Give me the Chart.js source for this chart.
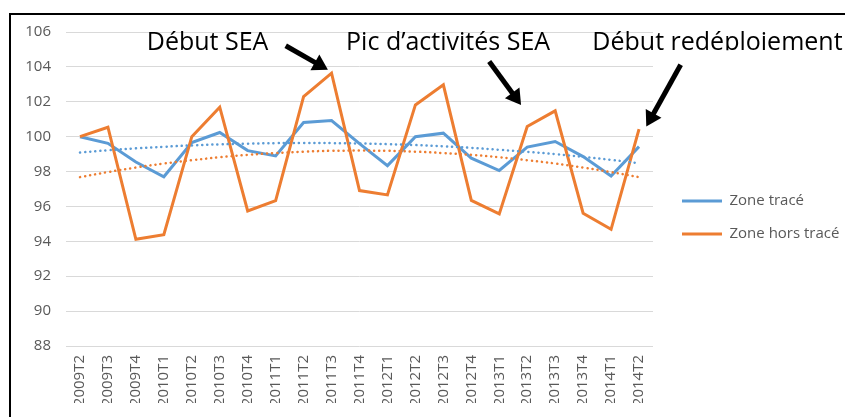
<!DOCTYPE html>
<html>
<head>
<meta charset="utf-8">
<script src="https://cdn.jsdelivr.net/npm/chart.js@4.4.1/dist/chart.umd.min.js"></script>
<style>
  html, body { margin: 0; padding: 0; background: #ffffff; }
  #wrap { position: relative; width: 845px; height: 417px; }
</style>
</head>
<body>
<div id="wrap"><canvas id="c" width="845" height="417"></canvas></div>
<script>
// ---- Data ----
const categories = ['2009T2','2009T3','2009T4','2010T1','2010T2','2010T3','2010T4','2011T1','2011T2','2011T3','2011T4',
                    '2012T1','2012T2','2012T3','2012T4','2013T1','2013T2','2013T3','2013T4','2014T1','2014T2'];
const zoneTrace     = [100.0, 99.62, 98.55, 97.7, 99.66, 100.24, 99.2, 98.9, 100.81, 100.92, 99.6,
                       98.34, 100.0, 100.2, 98.77, 98.06, 99.4, 99.72, 98.86, 97.75, 99.43];
const zoneHorsTrace = [100.0, 100.54, 94.12, 94.38, 100.0, 101.69, 95.74, 96.33, 102.3, 103.64, 96.91,
                       96.66, 101.82, 102.97, 96.35, 95.57, 100.58, 101.48, 95.61, 94.69, 100.43];
const trendTrace    = [99.09, 99.22, 99.33, 99.42, 99.5, 99.56, 99.6, 99.63, 99.64, 99.63, 99.61,
                       99.57, 99.52, 99.45, 99.36, 99.25, 99.13, 99.0, 98.84, 98.67, 98.48];
const trendHors     = [97.68, 97.97, 98.23, 98.46, 98.65, 98.82, 98.96, 99.06, 99.14, 99.19, 99.2,
                       99.19, 99.14, 99.06, 98.96, 98.82, 98.65, 98.46, 98.23, 97.97, 97.68];
const seriesLabels  = ['Zone tracé', 'Zone hors tracé'];
const yMin = 88, yMax = 106, yStep = 2;
const annotationTexts = ['Début SEA', 'Pic d’activités SEA', 'Début redéploiement'];

// ---- Styling ----
const BLUE = '#5b9bd5', ORANGE = '#ed7d31', GRAY = '#595959', GRID = '#d9d9d9';
const FONT = '"Open Sans", "Noto Sans", sans-serif';

// annotation placement, in axis units (category index, value)
const notes = [
  { text: annotationTexts[0], x: 2.39,  y: 104.98 },
  { text: annotationTexts[1], x: 9.52,  y: 104.98 },
  { text: annotationTexts[2], x: 18.33, y: 104.98, clip: true }
];
const arrows = [
  { from: [7.36, 105.21],  to: [8.87, 103.83] },
  { from: [14.64, 104.31], to: [15.78, 101.82] },
  { from: [21.49, 104.12], to: [20.26, 100.58] }
];

const overlay = {
  id: 'overlay',
  afterDraw(chart) {
    const ctx = chart.ctx, xs = chart.scales.x, ys = chart.scales.y;
    ctx.save();
    // frame
    ctx.strokeStyle = '#000'; ctx.lineWidth = 2;
    ctx.beginPath(); ctx.moveTo(10, 420); ctx.lineTo(10, 14); ctx.lineTo(850, 14); ctx.stroke();
    // texts
    ctx.fillStyle = '#000';
    ctx.font = '25px ' + FONT;
    ctx.textAlign = 'left'; ctx.textBaseline = 'alphabetic';
    notes.forEach(n => {
      const px = xs.getPixelForValue(n.x), py = ys.getPixelForValue(n.y);
      ctx.save();
      if (n.clip) { ctx.beginPath(); ctx.rect(0, 0, 845, py + 0.5); ctx.clip(); }
      ctx.fillText(n.text, px, py);
      ctx.restore();
    });
    // arrows
    arrows.forEach(a => {
      const x1 = xs.getPixelForValue(a.from[0]), y1 = ys.getPixelForValue(a.from[1]);
      const x2 = xs.getPixelForValue(a.to[0]),   y2 = ys.getPixelForValue(a.to[1]);
      const ang = Math.atan2(y2 - y1, x2 - x1);
      const hl = 15, hw = 9;
      const bx = x2 - Math.cos(ang) * hl, by = y2 - Math.sin(ang) * hl;
      ctx.strokeStyle = '#000'; ctx.lineWidth = 5; ctx.lineCap = 'butt';
      ctx.beginPath(); ctx.moveTo(x1, y1); ctx.lineTo(bx + Math.cos(ang) * 2, by + Math.sin(ang) * 2); ctx.stroke();
      ctx.fillStyle = '#000';
      ctx.beginPath();
      ctx.moveTo(x2, y2);
      ctx.lineTo(bx + Math.sin(ang) * hw, by - Math.cos(ang) * hw);
      ctx.lineTo(bx - Math.sin(ang) * hw, by + Math.cos(ang) * hw);
      ctx.closePath(); ctx.fill();
    });
    ctx.restore();
  }
};

new Chart(document.getElementById('c'), {
  type: 'line',
  data: {
    labels: categories,
    datasets: [
      { label: seriesLabels[0], data: zoneTrace, borderColor: BLUE, backgroundColor: BLUE,
        borderWidth: 3, pointRadius: 0, tension: 0, order: 4 },
      { label: seriesLabels[1], data: zoneHorsTrace, borderColor: ORANGE, backgroundColor: ORANGE,
        borderWidth: 3, pointRadius: 0, tension: 0, order: 3 },
      { label: 'Tendance ' + seriesLabels[0], data: trendTrace, borderColor: BLUE,
        borderWidth: 2.5, borderDash: [0.1, 5], borderCapStyle: 'round', pointRadius: 0, tension: 0.4, order: 2 },
      { label: 'Tendance ' + seriesLabels[1], data: trendHors, borderColor: ORANGE,
        borderWidth: 2.5, borderDash: [0.1, 5], borderCapStyle: 'round', pointRadius: 0, tension: 0.4, order: 1 }
    ]
  },
  options: {
    responsive: false,
    devicePixelRatio: 1,
    animation: false,
    layout: { padding: { left: 10, top: 32, right: 1, bottom: 14 } },
    plugins: {
      tooltip: { enabled: false },
      legend: {
        position: 'right',
        align: 'center',
        maxWidth: 180,
        labels: {
          usePointStyle: true, pointStyle: 'line', pointStyleWidth: 40,
          padding: 18, color: GRAY, font: { family: FONT, size: 15 },
          filter: item => !item.text.startsWith('Tendance'),
          sort: (a, b) => a.datasetIndex - b.datasetIndex
        }
      }
    },
    scales: {
      x: {
        type: 'category', offset: true,
        grid: { display: false, drawTicks: false },
        border: { display: false },
        ticks: { minRotation: 90, maxRotation: 90, autoSkip: false, padding: 9, color: GRAY, font: { family: FONT, size: 15 } },
        afterFit(s) { s.height = 57; }
      },
      y: {
        min: yMin, max: yMax,
        grid: { color: GRID, lineWidth: 1, drawTicks: false },
        border: { display: false },
        ticks: { stepSize: yStep, padding: 15, color: GRAY, font: { family: FONT, size: 15 } },
        afterFit(s) { s.width = 56; }
      },
      gap: {
        type: 'linear', position: 'right', display: true,
        grid: { display: false, drawTicks: false },
        border: { display: false },
        ticks: { display: false },
        afterFit(s) { s.width = 11; }
      }
    }
  },
  plugins: [overlay]
});
</script>
</body>
</html>
